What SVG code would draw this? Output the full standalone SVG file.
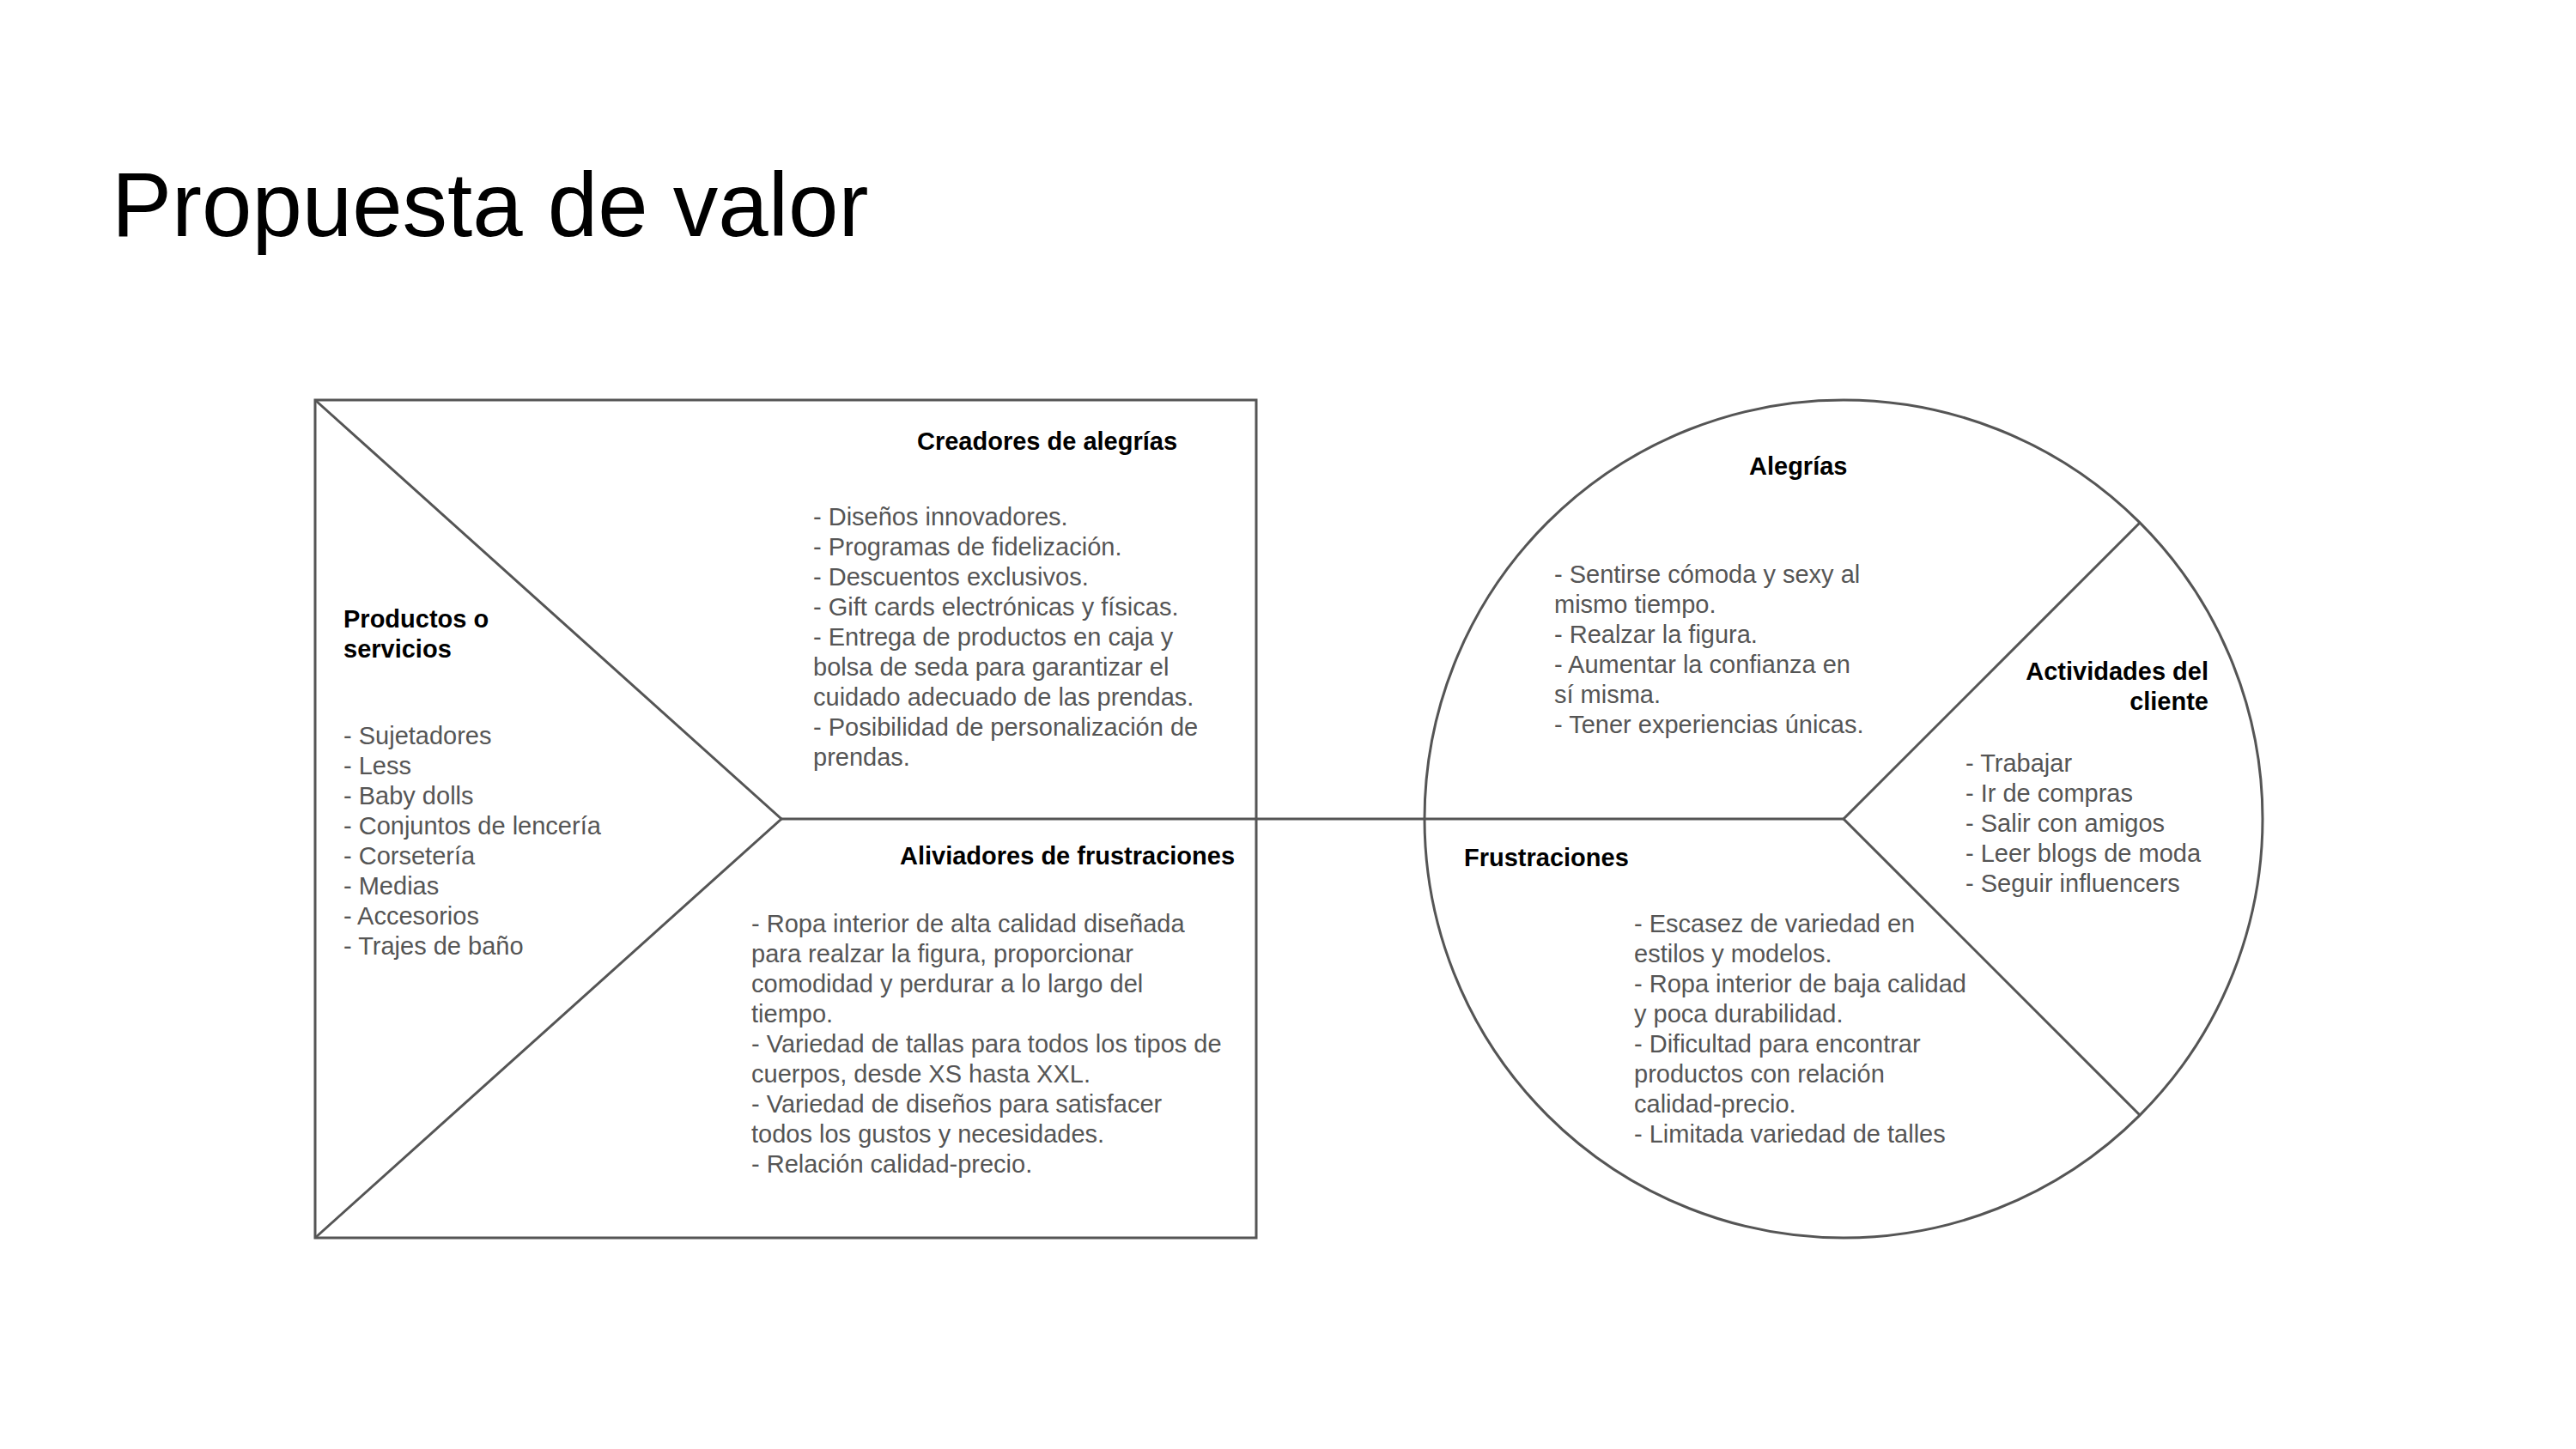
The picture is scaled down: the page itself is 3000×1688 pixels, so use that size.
<svg xmlns="http://www.w3.org/2000/svg" width="3000" height="1688" viewBox="0 0 3000 1688">
<style>
.ln{fill:none;stroke:#555555;stroke-width:3}
.h{font-family:"Liberation Sans",Arial,sans-serif;font-size:29px;font-weight:bold;fill:#000}
.b{font-family:"Liberation Sans",Arial,sans-serif;font-size:29px;fill:#555555}
.t{font-family:"Liberation Sans",Arial,sans-serif;font-size:105px;fill:#000}
</style>
<rect width="3000" height="1688" fill="#fff"/>
<text class="t" x="130" y="275">Propuesta de valor</text>
<g id="value-map">
<rect class="ln" x="367" y="466" width="1096" height="976"/>
<polyline class="ln" points="367,466 910,954 367,1442"/>
</g>
<g id="customer-profile">
<circle class="ln" cx="2147" cy="954" r="488"/>
<polyline class="ln" points="2492,609 2147,954 2492,1299"/>
</g>
<g id="connectors">
<line class="ln" x1="910" y1="954" x2="2147" y2="954"/>
</g>
<g id="productos">
<text class="h" x="400"><tspan x="400" y="731">Productos o</tspan><tspan x="400" y="766">servicios</tspan></text>
<text class="b"><tspan x="400" y="867">- Sujetadores</tspan><tspan x="400" y="902">- Less</tspan><tspan x="400" y="937">- Baby dolls</tspan><tspan x="400" y="972">- Conjuntos de lencería</tspan><tspan x="400" y="1007">- Corsetería</tspan><tspan x="400" y="1042">- Medias</tspan><tspan x="400" y="1077">- Accesorios</tspan><tspan x="400" y="1112">- Trajes de baño</tspan></text>
</g>
<g id="creadores">
<text class="h" x="1068" y="524">Creadores de alegrías</text>
<text class="b"><tspan x="947" y="612">- Diseños innovadores.</tspan><tspan x="947" y="647">- Programas de fidelización.</tspan><tspan x="947" y="682">- Descuentos exclusivos.</tspan><tspan x="947" y="717">- Gift cards electrónicas y físicas.</tspan><tspan x="947" y="752">- Entrega de productos en caja y</tspan><tspan x="947" y="787">bolsa de seda para garantizar el</tspan><tspan x="947" y="822">cuidado adecuado de las prendas.</tspan><tspan x="947" y="857">- Posibilidad de personalización de</tspan><tspan x="947" y="892">prendas.</tspan></text>
</g>
<g id="aliviadores">
<text class="h" x="1048" y="1007">Aliviadores de frustraciones</text>
<text class="b"><tspan x="875" y="1086">- Ropa interior de alta calidad diseñada</tspan><tspan x="875" y="1121">para realzar la figura, proporcionar</tspan><tspan x="875" y="1156">comodidad y perdurar a lo largo del</tspan><tspan x="875" y="1191">tiempo.</tspan><tspan x="875" y="1226">- Variedad de tallas para todos los tipos de</tspan><tspan x="875" y="1261">cuerpos, desde XS hasta XXL.</tspan><tspan x="875" y="1296">- Variedad de diseños para satisfacer</tspan><tspan x="875" y="1331">todos los gustos y necesidades.</tspan><tspan x="875" y="1366">- Relación calidad-precio.</tspan></text>
</g>
<g id="alegrias">
<text class="h" x="2037" y="553">Alegrías</text>
<text class="b"><tspan x="1810" y="679">- Sentirse cómoda y sexy al</tspan><tspan x="1810" y="714">mismo tiempo.</tspan><tspan x="1810" y="749">- Realzar la figura.</tspan><tspan x="1810" y="784">- Aumentar la confianza en</tspan><tspan x="1810" y="819">sí misma.</tspan><tspan x="1810" y="854">- Tener experiencias únicas.</tspan></text>
</g>
<g id="actividades">
<text class="h" text-anchor="end"><tspan x="2572" y="792">Actividades del</tspan><tspan x="2572" y="827">cliente</tspan></text>
<text class="b"><tspan x="2289" y="899">- Trabajar</tspan><tspan x="2289" y="934">- Ir de compras</tspan><tspan x="2289" y="969">- Salir con amigos</tspan><tspan x="2289" y="1004">- Leer blogs de moda</tspan><tspan x="2289" y="1039">- Seguir influencers</tspan></text>
</g>
<g id="frustraciones">
<text class="h" x="1705" y="1009">Frustraciones</text>
<text class="b"><tspan x="1903" y="1086">- Escasez de variedad en</tspan><tspan x="1903" y="1121">estilos y modelos.</tspan><tspan x="1903" y="1156">- Ropa interior de baja calidad</tspan><tspan x="1903" y="1191">y poca durabilidad.</tspan><tspan x="1903" y="1226">- Dificultad para encontrar</tspan><tspan x="1903" y="1261">productos con relación</tspan><tspan x="1903" y="1296">calidad-precio.</tspan><tspan x="1903" y="1331">- Limitada variedad de talles</tspan></text>
</g>
</svg>
